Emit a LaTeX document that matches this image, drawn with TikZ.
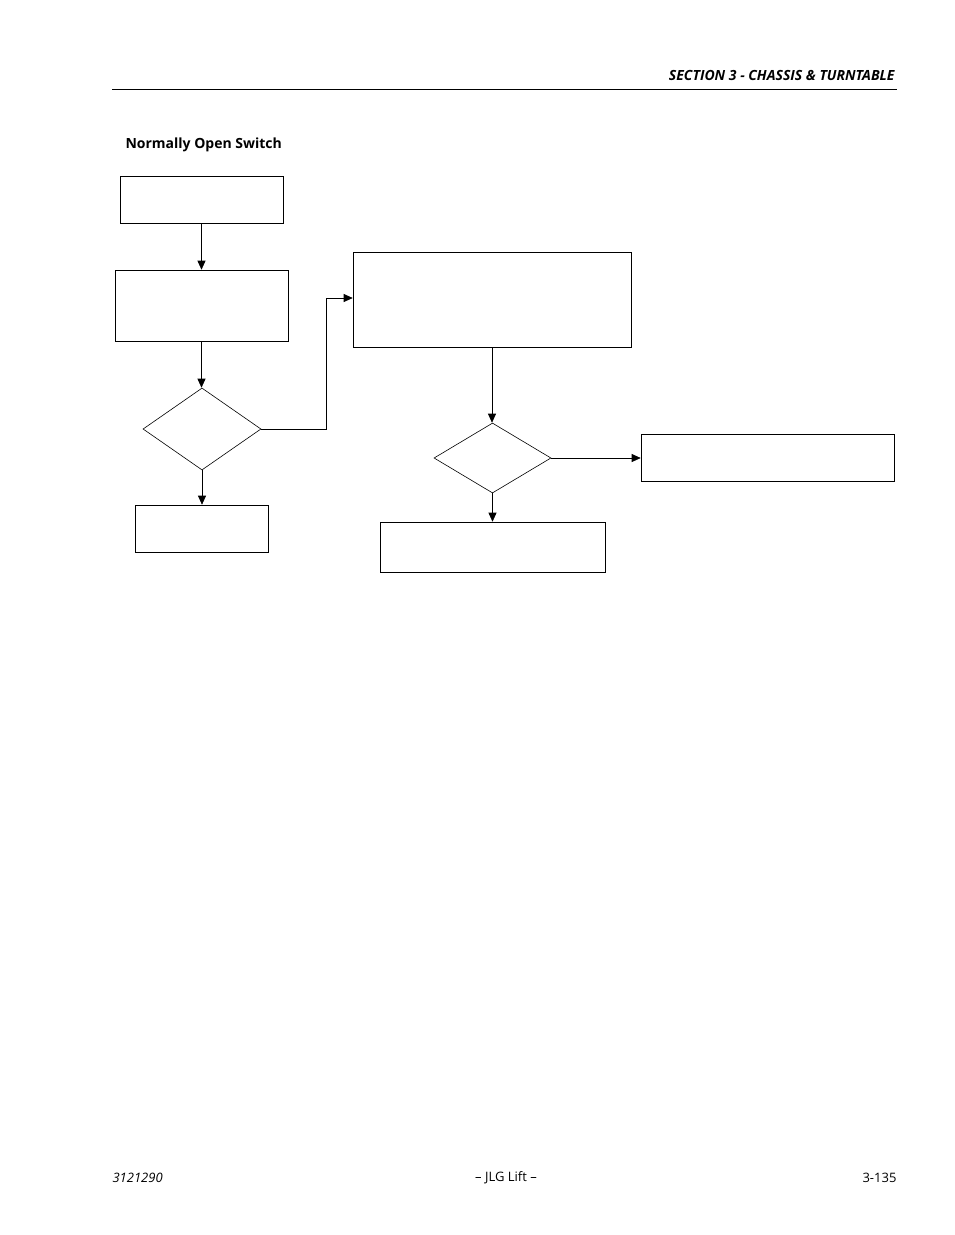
\documentclass[tikz,border=0pt]{standalone}
\usepackage{fontspec}
\setmainfont{Open Sans}
\usetikzlibrary{shapes.geometric,arrows.meta}
\begin{document}
\begin{tikzpicture}[x=1pt,y=-1pt,
  box/.style={draw,line width=0.6pt,inner sep=0},
  dia/.style={draw,line width=0.6pt,diamond,inner sep=0},
  arr/.style={line width=0.6pt,-{Triangle[length=9pt,width=8pt]}}]
\useasboundingbox (0,0) rectangle (954,1235);
\node[anchor=east,font=\bfseries\itshape\fontsize{14}{16}\selectfont] (hdr) at (898,75) {SECTION 3 - CHASSIS \& TURNTABLE};
\draw[line width=0.6pt] (112,89) -- (897,89);
\node[anchor=west,font=\bfseries\fontsize{14}{16}\selectfont] (ttl) at (122,145) {Normally Open Switch};
\node[box,minimum width=163pt,minimum height=47pt] (a) at (201.5,199.5) {};
\node[box,minimum width=173pt,minimum height=71pt] (b) at (201.5,305.5) {};
\node[dia,minimum width=118pt,minimum height=82pt,aspect=1.44] (d1) at (202,429) {};
\node[box,minimum width=133pt,minimum height=47pt] (c) at (201.5,528.5) {};
\node[box,minimum width=278pt,minimum height=95pt] (e) at (492,299.5) {};
\node[dia,minimum width=117pt,minimum height=70pt,aspect=1.67] (d2) at (492.5,458) {};
\node[box,minimum width=253pt,minimum height=47pt] (f) at (767.5,457.5) {};
\node[box,minimum width=225pt,minimum height=50pt] (g) at (492.5,547) {};
\draw[arr] (a.south) -- (a.south |- b.north);
\draw[arr] (b.south) -- (b.south |- d1.north);
\draw[arr] (d1.south) -- (d1.south |- c.north);
\draw[arr] (d1.east) -- (326,429) -- (326,298) -- (e.west |- 0,298);
\draw[arr] (e.south) -- (e.south |- d2.north);
\draw[arr] (d2.east) -- (f.west |- d2.east);
\draw[arr] (d2.south) -- (d2.south |- g.north);
\node[anchor=west,font=\itshape\fontsize{13}{15}\selectfont] (f1) at (109,1178) {3121290};
\node[font=\fontsize{13}{15}\selectfont] (f2) at (506,1178) {– JLG Lift –};
\node[anchor=east,font=\fontsize{13}{15}\selectfont] (f3) at (900,1178) {3-135};
\end{tikzpicture}
\end{document}
